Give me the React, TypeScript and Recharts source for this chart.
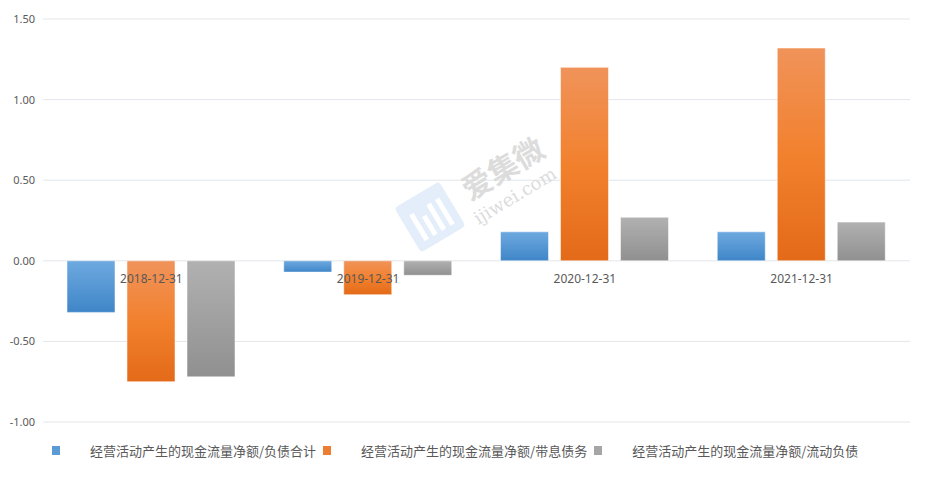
import React from 'react';
import { BarChart, Bar, XAxis, YAxis, CartesianGrid, Legend } from 'recharts';

// Report dates on the category axis
const dates = ['2018-12-31', '2019-12-31', '2020-12-31', '2021-12-31'];

// Ratios
const toTotalLiabilities = [-0.32, -0.07, 0.18, 0.18];
const toInterestDebt = [-0.75, -0.21, 1.2, 1.32];
const toCurrentLiabilities = [-0.72, -0.09, 0.27, 0.24];

const seriesNames = [
  '经营活动产生的现金流量净额/负债合计',
  '经营活动产生的现金流量净额/带息债务',
  '经营活动产生的现金流量净额/流动负债',
];

const yTicks = [-1, -0.5, 0, 0.5, 1, 1.5];

const chartData = dates.map((date, i) => ({
  date,
  a: toTotalLiabilities[i],
  b: toInterestDebt[i],
  c: toCurrentLiabilities[i],
}));

const W = 926;
const H = 490;
const margin = { top: 19, right: 16, bottom: 25, left: 0 };
const xAxisHeight = 13;
const legendHeight = 30;
const plotHeight = H - margin.top - margin.bottom - xAxisHeight - legendHeight;
const yMin = -1;
const yMax = 1.5;

const swatches = ['#5b9bd5', '#ed7d31', '#a5a5a5'];
const numFont = '"Noto Sans", "Liberation Sans", sans-serif';
const cjkFont = '"Noto Sans CJK SC", "Noto Sans", sans-serif';

// category labels sit on the zero line, not at the bottom of the plot
const DateTick = (props: any) => {
  const { x, y, payload } = props;
  const zeroShift = plotHeight * (0 - yMin) / (yMax - yMin);
  return (
    <text x={x} y={y - zeroShift + 14} textAnchor="middle" fill="#595959" fontSize={12} fontFamily={numFont}>
      {payload.value}
    </text>
  );
};

const LegendContent = () => (
  <div style={{ display: 'flex', alignItems: 'center', paddingLeft: 52, height: legendHeight, fontFamily: cjkFont, fontSize: 13, color: '#595959' }}>
    {seriesNames.map((name, i) => (
      <span key={name} style={{ display: 'flex', alignItems: 'center', marginRight: 7 }}>
        <span style={{ width: 8, height: 9, background: swatches[i], marginRight: 30, display: 'inline-block' }} />
        <span>{name}</span>
      </span>
    ))}
  </div>
);

const Watermark = () => (
  <>
    <div
      style={{
        position: 'absolute', left: 404, top: 191, width: 52, height: 52, borderRadius: 4,
        background: '#e4eefa', transform: 'rotate(-31deg)', pointerEvents: 'none',
        display: 'flex', alignItems: 'flex-end', justifyContent: 'center', gap: 5, paddingBottom: 8, boxSizing: 'border-box',
      }}
    >
      <span style={{ width: 5, height: 30, background: '#fff' }} />
      <span style={{ width: 5, height: 22, background: '#fff' }} />
      <span style={{ width: 5, height: 30, background: '#fff' }} />
      <span style={{ width: 5, height: 30, background: '#fff' }} />
    </div>
    <div
      style={{
        position: 'absolute', left: 452, top: 148, width: 100, height: 38, textAlign: 'center',
        transform: 'rotate(-31deg)', pointerEvents: 'none', color: '#dcdcdc',
        fontFamily: cjkFont, fontWeight: 700, fontSize: 30, lineHeight: '38px',
      }}
    >
      爱集微
    </div>
    <div
      style={{
        position: 'absolute', left: 465, top: 184, width: 100, height: 24, textAlign: 'center',
        transform: 'rotate(-31deg)', pointerEvents: 'none', color: '#dcdcdc',
        fontFamily: '"DejaVu Serif", "Liberation Serif", serif', fontSize: 18, lineHeight: '24px',
      }}
    >
      ijiwei.com
    </div>
  </>
);

const App = () => {
  return (
    <div style={{ position: 'absolute', left: 0, top: 0, width: W, height: H, background: '#fff' }}>
      <BarChart width={W} height={H} data={chartData} margin={margin} barSize={48} barGap={12}>
        <defs>
          <linearGradient id="gBlue" x1="0" y1="0" x2="0" y2="1">
            <stop offset="0%" stopColor="#6ea9e0" />
            <stop offset="100%" stopColor="#3f86c8" />
          </linearGradient>
          <linearGradient id="gOrange" x1="0" y1="0" x2="0" y2="1">
            <stop offset="0%" stopColor="#f0935a" />
            <stop offset="50%" stopColor="#f2812e" />
            <stop offset="100%" stopColor="#e36a18" />
          </linearGradient>
          <linearGradient id="gGray" x1="0" y1="0" x2="0" y2="1">
            <stop offset="0%" stopColor="#b1b1b1" />
            <stop offset="100%" stopColor="#909090" />
          </linearGradient>
        </defs>
        <CartesianGrid vertical={false} stroke="#e3e6ea" />
        <XAxis dataKey="date" height={xAxisHeight} axisLine={false} tickLine={false} tick={<DateTick />} interval={0} />
        <YAxis
          width={43}
          domain={[yMin, yMax]}
          ticks={yTicks}
          axisLine={false}
          tickLine={false}
          tickMargin={2}
          tickFormatter={(v: number) => v.toFixed(2)}
          tick={{ fill: '#595959', fontSize: 11, fontFamily: numFont }}
        />
        <Legend verticalAlign="bottom" height={legendHeight} content={<LegendContent />} />
        <Bar dataKey="a" name={seriesNames[0]} fill="url(#gBlue)" stroke="#ffffff" strokeOpacity={0.5} isAnimationActive={false} />
        <Bar dataKey="b" name={seriesNames[1]} fill="url(#gOrange)" stroke="#ffffff" strokeOpacity={0.5} isAnimationActive={false} />
        <Bar dataKey="c" name={seriesNames[2]} fill="url(#gGray)" stroke="#ffffff" strokeOpacity={0.5} isAnimationActive={false} />
      </BarChart>
      <Watermark />
    </div>
  );
};

export default App;
